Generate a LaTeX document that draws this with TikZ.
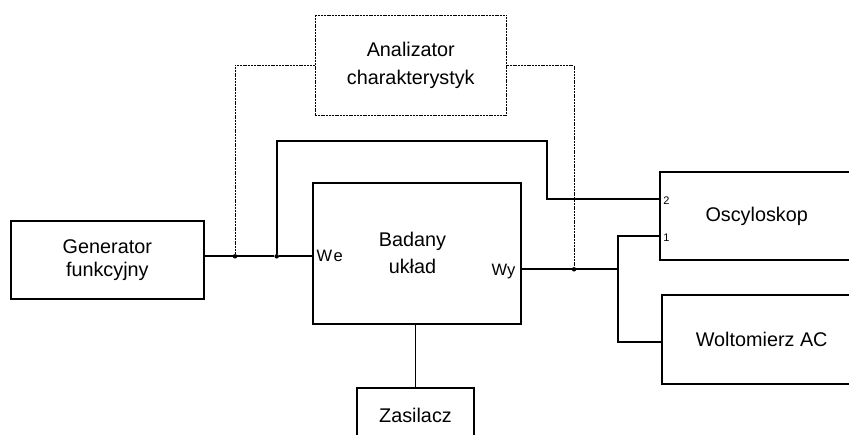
\documentclass[tikz,border=0pt]{standalone}
\usepackage{fontspec}
\setmainfont{Liberation Sans}
\tikzset{
  blok/.style={draw, line width=1.8pt, rectangle, align=center, inner sep=0pt, font=\fontsize{19.8}{22.5}\selectfont},
  pomiar/.style={line width=0.8pt, dash pattern=on 2pt off 0.8pt},
  sygnal/.style={line width=1.8pt},
  wezel/.style={circle, fill, inner sep=0pt, minimum size=4.5pt},
  port/.style={inner sep=0pt, font=\fontsize{16.5}{18}\selectfont},
  nr/.style={inner sep=0pt, font=\fontsize{11}{12}\selectfont}
}
\begin{document}
\begin{tikzpicture}[x=1pt, y=-1pt]
\useasboundingbox (0,0) rectangle (849,434);
\clip (0,0) rectangle (849,434);
\node[blok, minimum width=193.3pt, minimum height=78pt] (gen) at (107.3,260){Generator\\funkcyjny};
\node[blok, pomiar, minimum width=191.7pt, minimum height=100.7pt, font=\fontsize{19.8}{28}\selectfont] (ana) at (410.8,65.3){Analizator\\charakterystyk};
\node[blok, minimum width=207.4pt, minimum height=141pt] (uk) at (417,253.5){};
\node[align=center, font=\fontsize{19.8}{27}\selectfont] (ukt) at (412.5,253){Badany\\układ};
\node[blok, minimum width=116.3pt, minimum height=54pt] (zas) at (415.5,415){Zasilacz};
\node[blok, minimum width=193.4pt, minimum height=87.7pt] (osc) at (756.7,216.2){Oscyloskop};
\node[blok, minimum width=200pt, minimum height=88.7pt] (wol) at (761.7,339.7){Woltomierz AC};
\node[wezel] (j1) at (235,256.3){};
\node[wezel] (j2) at (276.7,256.3){};
\node[wezel] (j3) at (574,269.3){};
\coordinate (k1) at (546.7,141.3);
\coordinate (b1) at (618.3,269.3);
\coordinate (p2) at (osc.west |- 0,199.3);
\coordinate (p1) at (osc.west |- 0,236.3);
\node[port, anchor=west] (we) at ([xshift=4pt]uk.west |- j2){W\kern1.5pt e};
\node[port, anchor=east] (wy) at ([xshift=-6pt,yshift=-2pt]uk.east |- j3){Wy};
\node[nr, anchor=west] (n2) at ([xshift=4pt,yshift=-1pt]p2){2};
\node[nr, anchor=west] (n1) at ([xshift=4pt,yshift=-1pt]p1){1};
\draw[sygnal](gen.east |- j1) -- (j1) -- (j2) -- (uk.west |- j2);
\draw[pomiar](ana.west) -| (j1);
\draw[pomiar](ana.east) -| (j3);
\draw[sygnal](j2) |- (k1) |- (p2);
\draw[sygnal](uk.east |- j3) -- (j3) -- (b1);
\draw[sygnal](p1) -| (b1) |- (wol.west |- 0,342.3);
\draw[sygnal](zas.north |- uk.south) -- (zas.north);
\end{tikzpicture}
\end{document}
